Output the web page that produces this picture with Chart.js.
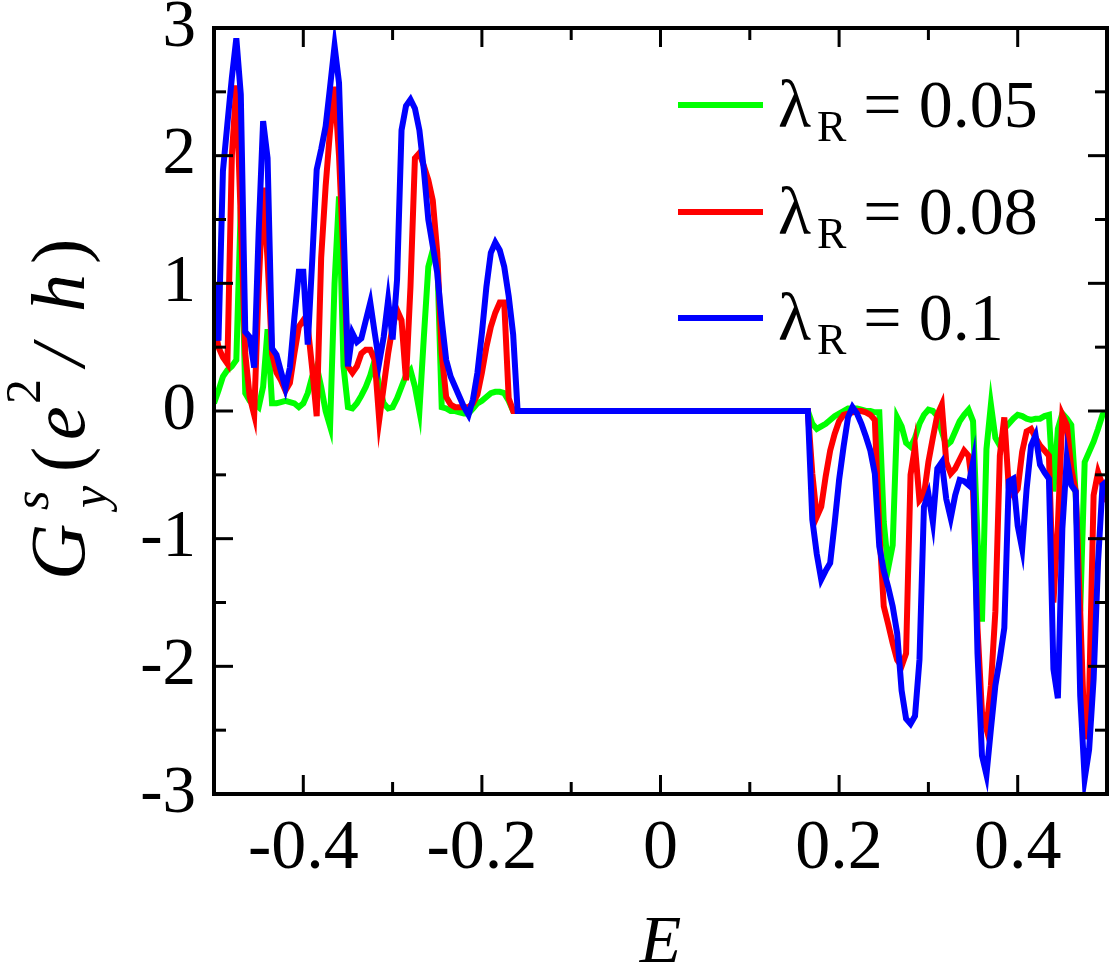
<!DOCTYPE html>
<html>
<head>
<meta charset="utf-8">
<script src="https://cdn.jsdelivr.net/npm/chart.js@4.4.0/dist/chart.umd.min.js"></script>
<style>
  html, body { margin: 0; padding: 0; background: #fff; }
</style>
</head>
<body>
<canvas id="myChart" width="1113" height="973"></canvas>
<script>
/* spin conductance G^s_y vs energy E, three Rashba strengths */
const energyLeft = [
  -0.5, -0.495, -0.49, -0.485, -0.48, -0.475, -0.47, -0.465, -0.46, -0.455,
  -0.45, -0.445, -0.44, -0.435, -0.43, -0.425, -0.42, -0.415, -0.41, -0.405,
  -0.4, -0.395, -0.39, -0.385, -0.38, -0.375, -0.37, -0.365, -0.36, -0.355,
  -0.35, -0.345, -0.34, -0.335, -0.33, -0.325, -0.32, -0.315, -0.31, -0.305,
  -0.3, -0.295, -0.29, -0.285, -0.28, -0.275, -0.27, -0.265, -0.26, -0.255,
  -0.25, -0.245, -0.24, -0.235, -0.23, -0.225, -0.22, -0.215, -0.21, -0.205,
  -0.2, -0.195, -0.19, -0.185, -0.18, -0.175, -0.17, -0.165
];
const energyGap = [-0.16];
const energyRight = [
  0.165, 0.17, 0.175, 0.18, 0.185, 0.19, 0.195, 0.2,
  0.205, 0.21, 0.215, 0.22, 0.225, 0.23, 0.235, 0.24, 0.245, 0.25,
  0.255, 0.26, 0.265, 0.27, 0.275, 0.28, 0.285, 0.29, 0.295, 0.3,
  0.305, 0.31, 0.315, 0.32, 0.325, 0.33, 0.335, 0.34, 0.345, 0.35,
  0.355, 0.36, 0.365, 0.37, 0.375, 0.38, 0.385, 0.39, 0.395, 0.4,
  0.405, 0.41, 0.415, 0.42, 0.425, 0.43, 0.435, 0.44, 0.445, 0.45,
  0.455, 0.46, 0.465, 0.47, 0.475, 0.48, 0.485, 0.49, 0.495, 0.5
];

// lambda_R = 0.05
const greenLeft = [
  0.06, 0.16, 0.27, 0.32, 0.35, 0.4, 1.6, 0.14, 0.08, 0.06,
  0.03, 0.19, 0.64, 0.06, 0.06, 0.07, 0.08, 0.07, 0.06, 0.03,
  0.06, 0.14, 0.27, 0.35, 0.19, 0.0, -0.12, 1.0, 1.68, 0.35,
  0.03, 0.02, 0.06, 0.12, 0.19, 0.28, 0.4, 0.19, 0.06, 0.02,
  0.03, 0.1, 0.19, 0.28, 0.32, 0.19, 0.0, 0.58, 1.13, 1.26,
  1.19, 0.03, 0.02, 0.0, 0.0, -0.01, -0.02, -0.02, 0.02, 0.06,
  0.08, 0.11, 0.14, 0.15, 0.15, 0.14, 0.08, 0
];
const greenGap = [0];
const greenRight = [
  0, -0.1, -0.14, -0.12, -0.1, -0.07, -0.04, -0.02,
  0.0, 0.02, 0.02, 0.02, 0.01, 0.0, 0.0, -0.01, -0.01, -0.87,
  -1.23, -1.05, -0.05, -0.12, -0.25, -0.28, -0.21, -0.1, -0.03, 0.01,
  0.0, -0.04, -0.16, -0.27, -0.24, -0.16, -0.08, -0.03, 0.01, -0.08,
  -1.0, -1.65, -0.3, 0.05, -0.21, -0.27, -0.14, -0.1, -0.06, -0.03,
  -0.04, -0.06, -0.07, -0.06, -0.06, -0.04, -0.03, -0.63, -0.14, -0.02,
  -0.06, -0.11, -0.66, -1.57, -0.4, -0.32, -0.24, -0.14, -0.03, -0.02
];

// lambda_R = 0.08
const redLeft = [
  0.69, 0.5, 0.42, 0.37, 2.0, 2.55, 1.5, 0.45, 0.11, -0.03,
  0.97, 1.75, 1.18, 0.45, 0.3, 0.24, 0.16, 0.22, 0.45, 0.66,
  0.71, 0.66, 0.33, -0.04, 1.2, 1.76, 2.2, 2.54, 2.0, 1.2,
  0.35, 0.3, 0.35, 0.45, 0.48, 0.48, 0.4, -0.07, 0.19, 0.45,
  0.66, 0.79, 0.71, 0.24, 0.97, 1.98, 2.02, 1.92, 1.81, 1.65,
  1.24, 0.45, 0.11, 0.05, 0.03, 0.03, 0.03, 0.03, 0.06, 0.13,
  0.3, 0.5, 0.66, 0.77, 0.85, 0.85, 0.1, 0
];
const redGap = [0];
const redRight = [
  0, -0.49, -0.83, -0.75, -0.51, -0.31, -0.18, -0.08,
  -0.03, -0.02, -0.01, 0, 0, -0.01, -0.03, -0.07, -0.93, -1.53,
  -1.67, -1.82, -1.95, -2.0, -1.9, -0.5, -0.28, -0.7, -0.66, -0.4,
  -0.21, -0.03, 0.05, -0.4, -0.49, -0.45, -0.38, -0.31, -0.35, -0.63,
  -1.7, -2.36, -2.49, -2.15, -1.57, -0.35, -0.05, -0.6, -0.66, -0.61,
  -0.32, -0.16, -0.14, -0.21, -0.27, -0.31, -0.35, -1.5, -0.9, -0.03,
  -0.11, -0.45, -0.63, -1.57, -2.57, -2.23, -0.66, -0.48, -0.58, -0.71
];

// lambda_R = 0.1
const blueLeft = [
  1.0, 0.55, 1.88, 2.25, 2.61, 2.92, 2.48, 0.62, 0.58, 0.34,
  1.4, 2.27, 1.98, 0.49, 0.44, 0.31, 0.18, 0.34, 0.73, 1.09,
  1.09, 0.52, 1.18, 1.89, 2.05, 2.23, 2.54, 2.86, 2.57, 1.46,
  0.35, 0.61, 0.54, 0.57, 0.71, 0.85, 0.61, 0.38, 0.58, 0.87,
  0.56, 1.03, 2.2, 2.39, 2.44, 2.37, 2.2, 1.89, 1.5, 1.29,
  1.08, 0.71, 0.4, 0.27, 0.19, 0.11, 0.03, -0.03, 0.09, 0.3,
  0.61, 0.97, 1.24, 1.32, 1.26, 1.13, 0.9, 0.6
];
const blueGap = [0];
const blueRight = [
  0, -0.85, -1.12, -1.32, -1.25, -1.19, -0.88, -0.54,
  -0.28, -0.05, 0.03, -0.02, -0.1, -0.2, -0.31, -0.49, -1.06, -1.25,
  -1.38, -1.53, -1.74, -2.19, -2.41, -2.45, -2.39, -1.95, -0.75, -0.65,
  -0.87, -0.45, -0.4, -0.69, -0.84, -0.66, -0.54, -0.55, -0.58, -0.4,
  -1.9, -2.7, -2.85, -2.49, -2.15, -1.94, -1.7, -0.55, -0.53, -0.9,
  -1.08, -0.61, -0.27, -0.19, -0.42, -0.48, -0.53, -2.02, -2.25, -0.92,
  -0.37, -0.58, -0.63, -2.23, -2.88, -2.65, -2.1, -1.18, -0.58, -0.55
];

const seriesNames = ["0.05", "0.08", "0.1"];
const seriesColors = ["#00ff00", "#ff0000", "#0000ff"];

const xTicks = [-0.4, -0.2, 0, 0.2, 0.4];
const xTickLabels = ["-0.4", "-0.2", "0", "0.2", "0.4"];
const xMinor = [-0.3, -0.1, 0.1, 0.3];
const yTicks = [-3, -2, -1, 0, 1, 2, 3];
const yMinor = [-2.5, -1.5, -0.5, 0.5, 1.5, 2.5];

const serif = '"Liberation Serif", "Times New Roman", serif';

const energy = energyLeft.concat(energyGap, energyRight);
function points(left, gap, right) {
    const vals = left.concat(gap, right);
    return energy.map((e, i) => ({ x: e, y: vals[i] }));
}
const curves = [
    points(greenLeft, greenGap, greenRight),
    points(redLeft, redGap, redRight),
    points(blueLeft, blueGap, blueRight),
];

const datasets = curves.map((pts, i) => ({
    label: seriesNames[i],
    data: pts,
    borderColor: seriesColors[i],
    borderWidth: 6,
    borderJoinStyle: "miter",
    pointRadius: 0,
    tension: 0,
    fill: false,
    order: 3 - i,
}));

/* frame, inside ticks, x labels, titles, legend */
const decorations = {
    id: "decorations",
    afterDraw(chart) {
        const ctx = chart.ctx;
        const a = chart.chartArea;
        const xs = chart.scales.x;
        const ys = chart.scales.y;
        ctx.save();
        ctx.strokeStyle = "#000";
        ctx.fillStyle = "#000";

        const seg = (x1, y1, x2, y2) => {
            ctx.beginPath();
            ctx.moveTo(x1, y1);
            ctx.lineTo(x2, y2);
            ctx.stroke();
        };
        ctx.lineWidth = 3;
        xTicks.forEach((v) => {
            const px = xs.getPixelForValue(v);
            seg(px, a.bottom, px, a.bottom - 19);
            seg(px, a.top, px, a.top + 19);
        });
        xMinor.forEach((v) => {
            const px = xs.getPixelForValue(v);
            seg(px, a.bottom, px, a.bottom - 12);
            seg(px, a.top, px, a.top + 12);
        });
        yTicks.forEach((v) => {
            const py = ys.getPixelForValue(v);
            seg(a.left, py, a.left + 19, py);
            seg(a.right, py, a.right - 19, py);
        });
        yMinor.forEach((v) => {
            const py = ys.getPixelForValue(v);
            seg(a.left, py, a.left + 12, py);
            seg(a.right, py, a.right - 12, py);
        });
        ctx.lineWidth = 4;
        ctx.strokeRect(a.left, a.top, a.right - a.left, a.bottom - a.top);

        // x tick labels
        ctx.font = "70px " + serif;
        ctx.textAlign = "center";
        ctx.textBaseline = "alphabetic";
        xTicks.forEach((v, i) => {
            ctx.fillText(xTickLabels[i], xs.getPixelForValue(v), 868);
        });

        // x title
        ctx.font = "italic 68px " + serif;
        ctx.fillText("E", (a.left + a.right) / 2, 962);

        // y title, rotated, pieces placed along the axis
        const base = 84;
        const pieces = [
            { t: "G", size: 78, it: true, y: 580, x: base },
            { t: "s", size: 50, it: true, y: 510, x: 48 },
            { t: "y", size: 50, it: true, y: 508, x: 106 },
            { t: "(", size: 76, it: false, y: 472, x: base },
            { t: "e", size: 76, it: true, y: 440, x: base },
            { t: "2", size: 50, it: false, y: 404, x: 40 },
            { t: "/", size: 76, it: true, y: 366, x: base },
            { t: "h", size: 76, it: true, y: 312, x: base },
            { t: ")", size: 76, it: false, y: 264, x: base },
        ];
        ctx.textAlign = "left";
        pieces.forEach((p) => {
            ctx.save();
            ctx.translate(p.x, p.y);
            ctx.rotate(-Math.PI / 2);
            ctx.font = (p.it ? "italic " : "") + p.size + "px " + serif;
            ctx.fillText(p.t, 0, 0);
            ctx.restore();
        });

        // legend
        const rows = [127, 234, 340];
        rows.forEach((by, i) => {
            ctx.strokeStyle = seriesColors[i];
            ctx.lineWidth = 6;
            seg(678, by - 22, 763, by - 22);
            ctx.font = "68px " + serif;
            ctx.fillText("\u03bb", 778, by);
            let x = 778 + ctx.measureText("\u03bb").width + 6;
            ctx.font = "44px " + serif;
            ctx.fillText("R", x, by + 14);
            x += ctx.measureText("R").width;
            ctx.font = "68px " + serif;
            ctx.fillText(" = " + seriesNames[i], x, by);
        });
        ctx.restore();
    },
};

const config = {
    type: "line",
    data: { datasets: datasets },
    options: {
        responsive: false,
        animation: false,
        events: [],
        layout: { padding: { top: 28, right: 6, left: 0, bottom: 0 } },
        plugins: {
            legend: { display: false },
            tooltip: { enabled: false },
        },
        scales: {
            x: {
                type: "linear",
                min: -0.5,
                max: 0.5,
                grid: { display: false, drawTicks: false },
                border: { display: false },
                ticks: { display: false },
                afterFit: (scale) => {
                    scale.height = 179;
                    scale.paddingLeft = 0;
                    scale.paddingRight = 0;
                },
            },
            y: {
                type: "linear",
                min: -3,
                max: 3,
                grid: { display: false, drawTicks: false },
                border: { display: false },
                afterBuildTicks: (scale) => {
                    scale.ticks = yTicks.map((v) => ({ value: v }));
                },
                ticks: {
                    color: "#000",
                    padding: 18,
                    font: { family: serif, size: 67 },
                    callback: (v) => String(v),
                },
                afterFit: (scale) => {
                    scale.width = 214;
                    scale.paddingTop = 0;
                    scale.paddingBottom = 0;
                },
            },
        },
    },
    plugins: [decorations],
};

const myChart = new Chart(document.getElementById("myChart"), config);
</script>
</body>
</html>
